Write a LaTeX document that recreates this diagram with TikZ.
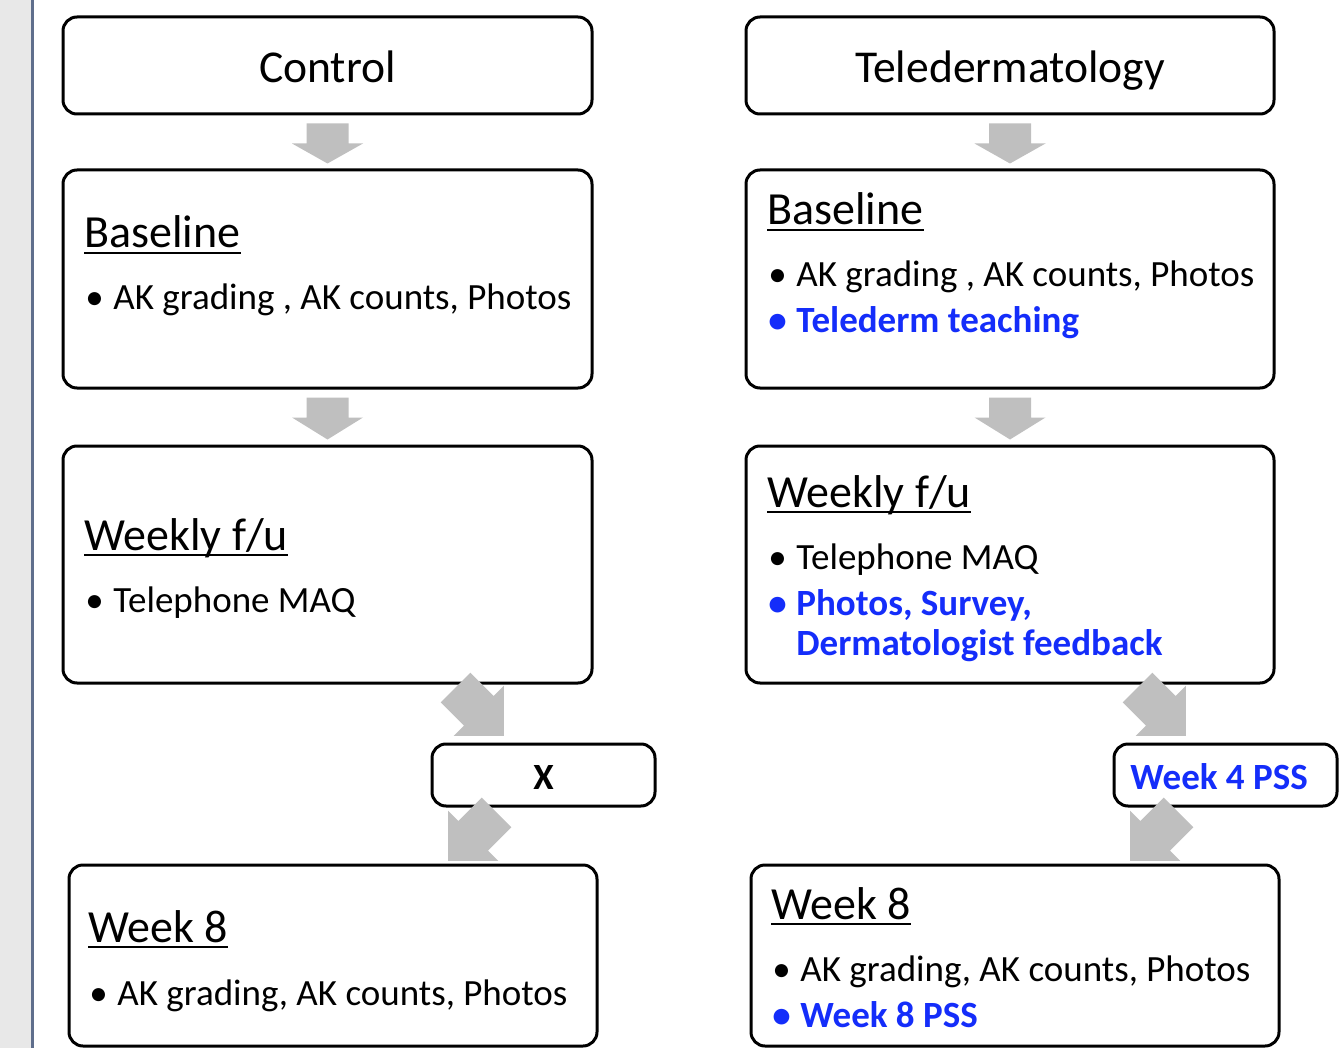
\documentclass[tikz,border=0pt]{standalone}
\usepackage{fontspec}
\setmainfont{Carlito}
\usepackage{tikz}
\usetikzlibrary{calc}
\usepackage{xcolor}
\definecolor{teleblue}{RGB}{20,45,250}
\definecolor{arrgray}{RGB}{191,191,191}
\definecolor{stripgray}{RGB}{232,232,232}
\definecolor{stripline}{RGB}{95,110,140}
\newcommand{\hdr}[1]{\setbox0\hbox{#1}\rlap{\rule[-2.8pt]{\wd0}{1pt}}\box0}
\newcommand{\bul}{\makebox[14pt][l]{\textbullet}}

\begin{document}
\begin{tikzpicture}[x=0.5pt,y=-0.5pt,
  box/.style={draw,line width=1.5pt,rounded corners=7pt,fill=white,inner sep=0pt},
  title/.style={font=\fontsize{22.8}{26}\selectfont,anchor=base,inner sep=0pt},
  head/.style={font=\fontsize{23}{26}\selectfont,anchor=base west,inner sep=0pt},
  item/.style={font=\fontsize{18.5}{20}\selectfont,anchor=base west,align=left,inner sep=0pt},
  blue/.style={text=teleblue,font=\fontsize{18.5}{20}\selectfont\bfseries},
  pics/blockarr/.style args={#1/#2}{code={
    \fill[arrgray] (-21,0) -- (21,0) -- (21,#1) -- (35.5,#1) -- (0,#1+#2)
      -- (-35.5,#1) -- (-21,#1) -- cycle;}}]
\useasboundingbox (0,0) rectangle (1344,1048);
\fill[stripgray] (0,0) rectangle (31,1048);
\draw[stripline,line width=1.5pt] (32.5,0) -- (32.5,1048);
% control arm
\node[box,minimum width=264.5pt,minimum height=48.5pt] (ctrl) at (327.5,65.5) {};
\node[title] (ctrltxt) at (327.5,83) {Control};
\node[box,minimum width=264.5pt,minimum height=109pt] (baseL) at (327.5,279) {};
\node[head] (baseLhd) at (84,248) {\hdr{Baseline}};
\node[item] (baseLa) at (85,310) {\bul AK grading , AK counts, Photos};
\node[box,minimum width=264.5pt,minimum height=118.5pt] (weekL) at (327.5,564.5) {};
\node[head] (weekLhd) at (84,550) {\hdr{Weekly f/u}};
\node[item] (weekLa) at (85,612) {\bul Telephone MAQ};
\node[box,minimum width=111.5pt,minimum height=31pt] (xbox) at (543.5,775) {};
\node[item,anchor=base,font=\fontsize{18.5}{20}\selectfont\bfseries] (xtxt) at (543.5,789) {X};
\node[box,minimum width=264pt,minimum height=90.5pt] (w8L) at (333,955.5) {};
\node[head] (w8Lhd) at (88,942) {\hdr{Week 8}};
\node[item] (w8La) at (89,1005) {\bul AK grading, AK counts, Photos};
% teledermatology arm
\node[box,minimum width=264pt,minimum height=48.5pt] (tele) at (1010,65.5) {};
\node[title] (teletxt) at (1010,83) {Teledermatology};
\node[box,minimum width=264pt,minimum height=109pt] (baseR) at (1010,279) {};
\node[head] (baseRhd) at (767,225) {\hdr{Baseline}};
\node[item] (baseRa) at (768,286) {\bul AK grading , AK counts, Photos};
\node[item,blue] (baseRb) at (768,332) {\bul Telederm teaching};
\node[box,minimum width=264pt,minimum height=118.5pt] (weekR) at (1010,564.5) {};
\node[head] (weekRhd) at (767,507) {\hdr{Weekly f/u}};
\node[item] (weekRa) at (768,569) {\bul Telephone MAQ};
\node[item,blue] (weekRb) at (768,655)
  {\bul Photos, Survey,\\\hspace*{14pt}Dermatologist feedback};
\node[box,minimum width=111.5pt,minimum height=31pt] (pss) at (1225.5,775) {};
\node[item,blue] (psstxt) at (1130,789) {Week 4 PSS};
\node[box,minimum width=264pt,minimum height=90.5pt] (w8R) at (1015,955.5) {};
\node[head] (w8Rhd) at (771,919) {\hdr{Week 8}};
\node[item] (w8Ra) at (772,981) {\bul AK grading, AK counts, Photos};
\node[item,blue] (w8Rb) at (772,1027) {\bul Week 8 PSS};
% block arrows
\pic (a1) at ($(ctrl.south)+(0,8)$) {blockarr=20/20};
\pic (a2) at ($(baseL.south)+(0,8)$) {blockarr=20/22};
\pic[rotate=45] (a3) at ($(xbox.north west)+(25,-55)$) {blockarr=33/35.5};
\pic[rotate=-45] (a4) at ($(xbox.south west)+(66,5)$) {blockarr=33/35.5};
\pic (b1) at ($(tele.south)+(0,8)$) {blockarr=20/20};
\pic (b2) at ($(baseR.south)+(0,8)$) {blockarr=20/22};
\pic[rotate=45] (b3) at ($(pss.north west)+(25,-55)$) {blockarr=33/35.5};
\pic[rotate=-45] (b4) at ($(pss.south west)+(66,5)$) {blockarr=33/35.5};
\end{tikzpicture}
\end{document}
